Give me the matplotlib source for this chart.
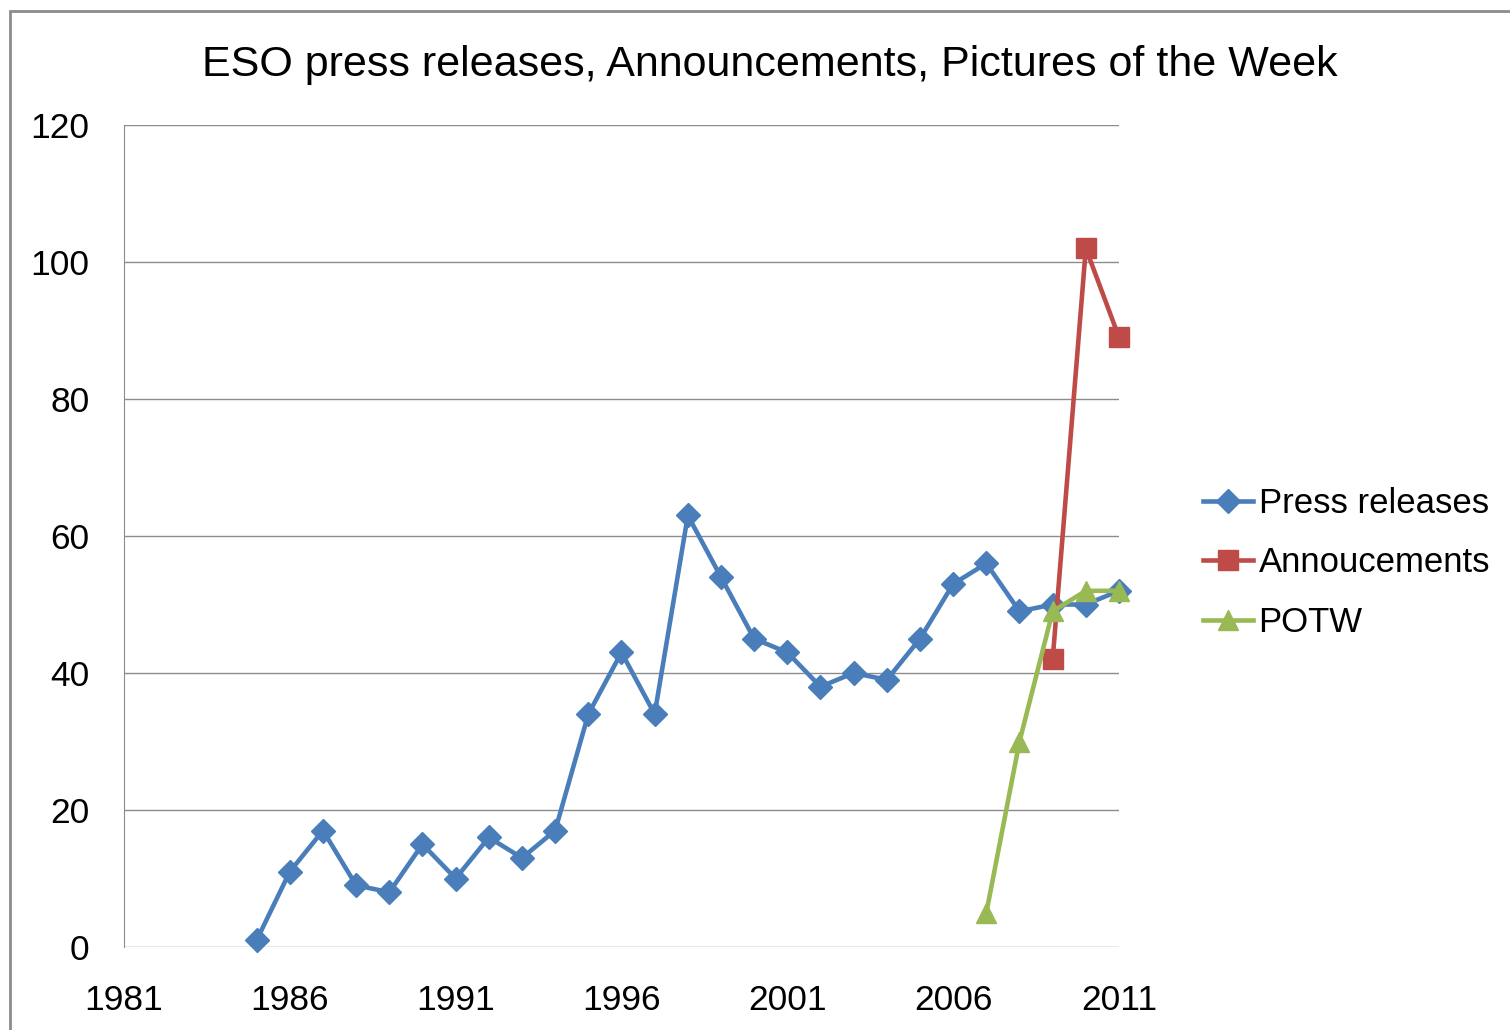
import matplotlib.pyplot as plt
from matplotlib.patches import Rectangle

# data
years_press = list(range(1985, 2012))
press = [1, 11, 17, 9, 8, 15, 10, 16, 13, 17, 34, 43, 34, 63, 54, 45,
         43, 38, 40, 39, 45, 53, 56, 49, 50, 50, 52]

years_ann = [2009, 2010, 2011]
announcements = [42, 102, 89]

years_potw = [2007, 2008, 2009, 2010, 2011]
potw = [5, 30, 49, 52, 52]

x_ticks = [1981, 1986, 1991, 1996, 2001, 2006, 2011]
y_ticks = [0, 20, 40, 60, 80, 100, 120]

plt.rcParams['font.family'] = ['Liberation Sans', 'DejaVu Sans']

fig = plt.figure(figsize=(15.1, 10.3), dpi=100)
ax = fig.add_axes([124 / 1510, 83 / 1030, 995 / 1510, 822 / 1030])

# outer chart border (only left and top visible in the reference)
fig.patches.append(Rectangle((9.5 / 1510, -0.1), 1.2, 1.1 - 11 / 1030,
                             transform=fig.transFigure, fill=False,
                             edgecolor="#8c8c8c", linewidth=2, clip_on=False))

ax.plot(years_press, press, color="#4A7EBB", marker="D", markersize=12,
        linewidth=3.3, label="Press releases", clip_on=False, zorder=3)
ax.plot(years_ann, announcements, color="#BE4B48", marker="s", markersize=14,
        linewidth=3.3, label="Annoucements", clip_on=False, zorder=4)
ax.plot(years_potw, potw, color="#98B954", marker="^", markersize=15,
        linewidth=3.3, label="POTW", clip_on=False, zorder=5)

ax.set_xlim(1981, 2011)
ax.set_ylim(0, 120)
ax.set_xticks(x_ticks)
ax.set_yticks(y_ticks)
ax.tick_params(length=0, labelsize=25.5)
ax.tick_params(axis="x", pad=27)
ax.tick_params(axis="y", pad=25)
ax.grid(axis="y", color="#8c8c8c", linewidth=1)
ax.set_axisbelow(True)
for side in ["top", "right", "bottom"]:
    ax.spines[side].set_visible(False)
ax.spines["left"].set_color("#8c8c8c")

fig.text(770 / 1510, 1 - 65 / 1030, "ESO press releases, Announcements, Pictures of the Week",
         ha="center", va="center", fontsize=31)

ax.legend(loc="center left", bbox_to_anchor=(1203 / 1510, 1 - 563 / 1030),
          bbox_transform=fig.transFigure, frameon=False, fontsize=25,
          handlelength=1.45, handletextpad=0.15, labelspacing=0.76,
          borderpad=0, borderaxespad=0)

fig.savefig("out.png", dpi=100)
